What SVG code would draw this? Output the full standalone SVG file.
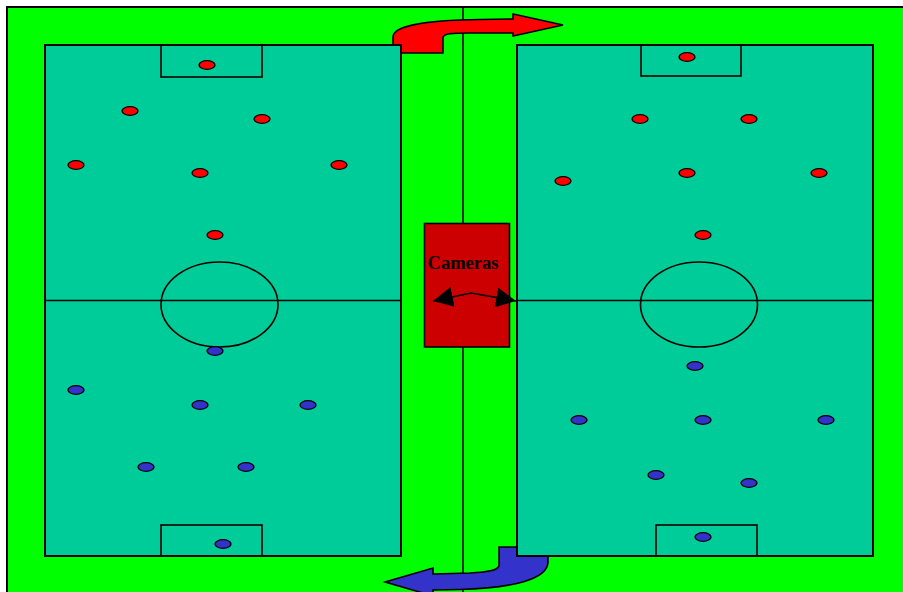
<svg xmlns="http://www.w3.org/2000/svg" width="903" height="592" viewBox="0 0 903 592">
<style>
.bg{fill:#00FF00;stroke:#000;stroke-width:2}
.field{fill:#00CC99;stroke:#000;stroke-width:2}
.ln{fill:none;stroke:#000;stroke-width:1.6}
.red{fill:#FF0000;stroke:#000;stroke-width:1.3}
.blue{fill:#3333CC;stroke:#000;stroke-width:1.3}
.lbl{font-family:"Liberation Serif","Times New Roman",serif;font-weight:bold;font-size:18.5px;fill:#000}
</style>
<defs>
<marker id="ah" viewBox="0 0 10 10" refX="10" refY="5" markerWidth="20" markerHeight="20" markerUnits="userSpaceOnUse" orient="auto-start-reverse">
<path d="M0,0 L10,5 L0,10 Z" fill="#000"/>
</marker>
</defs>
<rect class="bg" x="7" y="7" width="910" height="600"/>
<line class="ln" x1="463" y1="7" x2="463" y2="600"/>
<g id="swap-top">
<path d="M393,53 L393,37 C393,25 430,20 480,19.5 L513,19 L513,14 L563,25 L513,36 L513,33 L470,33 C452,33 443,33.5 443,38 L443,53 Z" fill="#FF0000" stroke="#000" stroke-width="1.6"/>
</g>
<g id="swap-bottom">
<path d="M548,547 L548,562 C548,580 510,588 460,589.5 L433,590 L433,596 L385,582 L433,568 L433,574 L470,573 C490,572 499,570 499,565 L499,547 Z" fill="#3333CC" stroke="#000" stroke-width="1.6"/>
</g>
<g id="field-left">
<rect class="field" x="45" y="45" width="356" height="511"/>
<rect class="ln" x="161" y="45" width="101" height="32"/>
<rect class="ln" x="161" y="525" width="101" height="31"/>
<line class="ln" x1="45" y1="300.5" x2="401" y2="300.5"/>
<ellipse class="ln" cx="219.5" cy="304.5" rx="58.5" ry="42.5"/>
</g>
<g id="field-right">
<rect class="field" x="517" y="45" width="356" height="511"/>
<rect class="ln" x="641" y="45" width="100" height="31"/>
<rect class="ln" x="656" y="525" width="101" height="31"/>
<line class="ln" x1="517" y1="300.5" x2="873" y2="300.5"/>
<ellipse class="ln" cx="699" cy="304.5" rx="58.5" ry="42.5"/>
</g>
<g id="players-left-red">
<ellipse class="red" cx="207" cy="65" rx="8" ry="4.3"/>
<ellipse class="red" cx="130" cy="111" rx="8" ry="4.3"/>
<ellipse class="red" cx="262" cy="119" rx="8" ry="4.3"/>
<ellipse class="red" cx="76" cy="165" rx="8" ry="4.3"/>
<ellipse class="red" cx="200" cy="173" rx="8" ry="4.3"/>
<ellipse class="red" cx="339" cy="165" rx="8" ry="4.3"/>
<ellipse class="red" cx="215" cy="235" rx="8" ry="4.3"/>
</g>
<g id="players-left-blue">
<ellipse class="blue" cx="215" cy="351" rx="8" ry="4.3"/>
<ellipse class="blue" cx="76" cy="390" rx="8" ry="4.3"/>
<ellipse class="blue" cx="200" cy="405" rx="8" ry="4.3"/>
<ellipse class="blue" cx="308" cy="405" rx="8" ry="4.3"/>
<ellipse class="blue" cx="146" cy="467" rx="8" ry="4.3"/>
<ellipse class="blue" cx="246" cy="467" rx="8" ry="4.3"/>
<ellipse class="blue" cx="223" cy="544" rx="8" ry="4.3"/>
</g>
<g id="players-right-red">
<ellipse class="red" cx="687" cy="57" rx="8" ry="4.3"/>
<ellipse class="red" cx="640" cy="119" rx="8" ry="4.3"/>
<ellipse class="red" cx="749" cy="119" rx="8" ry="4.3"/>
<ellipse class="red" cx="563" cy="181" rx="8" ry="4.3"/>
<ellipse class="red" cx="687" cy="173" rx="8" ry="4.3"/>
<ellipse class="red" cx="819" cy="173" rx="8" ry="4.3"/>
<ellipse class="red" cx="703" cy="235" rx="8" ry="4.3"/>
</g>
<g id="players-right-blue">
<ellipse class="blue" cx="695" cy="366" rx="8" ry="4.3"/>
<ellipse class="blue" cx="579" cy="420" rx="8" ry="4.3"/>
<ellipse class="blue" cx="703" cy="420" rx="8" ry="4.3"/>
<ellipse class="blue" cx="826" cy="420" rx="8" ry="4.3"/>
<ellipse class="blue" cx="656" cy="475" rx="8" ry="4.3"/>
<ellipse class="blue" cx="749" cy="483" rx="8" ry="4.3"/>
<ellipse class="blue" cx="703" cy="537" rx="8" ry="4.3"/>
</g>
<g id="cameras">
<rect x="424.5" y="223.5" width="85" height="123.5" fill="#CC0000" stroke="#000" stroke-width="1.6"/>
<text class="lbl" x="463" y="269" text-anchor="middle">Cameras</text>
</g>
<g id="connectors">
<path d="M433,301 L471,293 L516,301" fill="none" stroke="#000" stroke-width="1.6" marker-start="url(#ah)" marker-end="url(#ah)"/>
</g>
</svg>
